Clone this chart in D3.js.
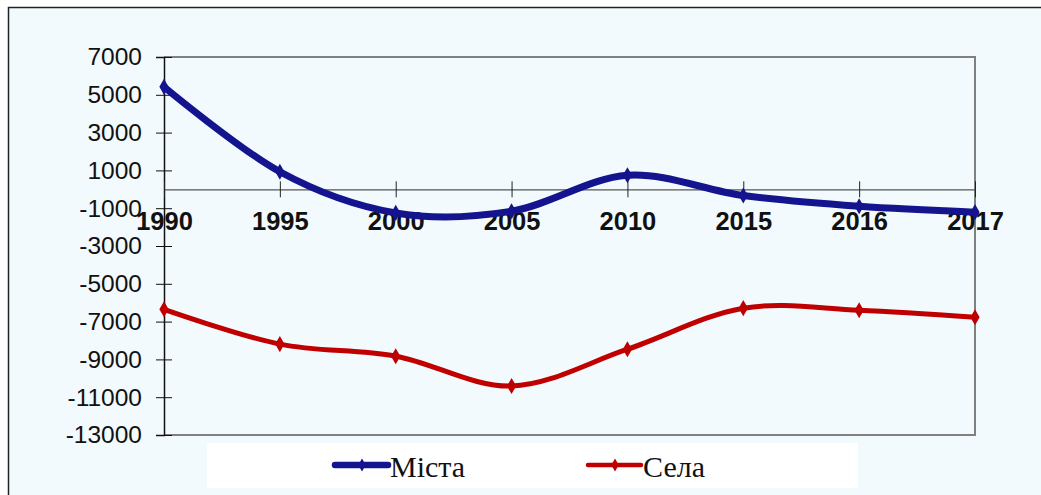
<!DOCTYPE html>
<html>
<head>
<meta charset="utf-8">
<script src="https://cdn.jsdelivr.net/npm/d3@7/dist/d3.min.js"></script>
<style>
  body { margin: 0; background: white; }
</style>
</head>
<body>
<svg id="chart" width="1041" height="495"></svg>
<script>

var years = ['1990', '1995', '2000', '2005', '2010', '2015', '2016', '2017'];
var cities = [5420, 930, -1250, -1160, 740, -330, -900, -1210];
var villages = [-6350, -8190, -8830, -10410, -8460, -6290, -6400, -6770];
var y_ticks = [7000, 5000, 3000, 1000, -1000, -3000, -5000, -7000, -9000, -11000, -13000];
var series_names = ['Міста', 'Села'];

var blue = '#14148e';
var red = '#c00000';
var axis_gray = '#808080';

var svg = d3.select('#chart');

// chart area
svg.append('rect')
  .attr('x', 8.5)
  .attr('y', 7.5)
  .attr('width', 1040)
  .attr('height', 495)
  .style('fill', '#f3fafd')
  .style('stroke', '#222')
  .style('stroke-width', 1.5);

var plot = {left: 164, right: 975, top: 57, bottom: 435};

var x = d3.scalePoint()
  .domain(years)
  .range([plot.left, plot.right])
  .padding(0);

var y = d3.scaleLinear()
  .domain([-13000, 7000])
  .range([plot.bottom, plot.top]);

// plot frame (top, right, bottom)
svg.append('path')
  .attr('d', 'M' + plot.left + ',' + plot.top + ' L' + plot.right + ',' + plot.top +
    ' L' + plot.right + ',' + plot.bottom + ' L' + plot.left + ',' + plot.bottom)
  .style('fill', 'none')
  .style('stroke', axis_gray)
  .style('stroke-width', 2);

// y axis
var y_axis = svg.append('g')
  .attr('transform', 'translate(' + plot.left + ',0)')
  .call(d3.axisLeft(y)
    .tickValues(y_ticks)
    .tickSize(8)
    .tickPadding(14)
    .tickFormat(function(d){ return d < 0 ? '-' + Math.abs(d) : '' + d; }));

y_axis.select('.domain')
  .style('stroke', '#111')
  .style('stroke-width', 1.5);

y_axis.selectAll('.tick line')
  .attr('x1', 8)
  .attr('x2', -8)
  .style('stroke', '#111');

y_axis.selectAll('.tick text')
  .style('font-family', '"Liberation Sans", Arial, sans-serif')
  .style('font-size', '24.5px')
  .style('fill', '#111');

// x axis on the zero line
var x_axis = svg.append('g')
  .attr('transform', 'translate(0,' + y(0) + ')')
  .call(d3.axisBottom(x)
    .tickSize(8)
    .tickSizeOuter(0));

x_axis.select('.domain')
  .style('stroke', '#555')
  .style('stroke-width', 1.2);

x_axis.selectAll('.tick line')
  .attr('y1', -8)
  .attr('y2', 8)
  .style('stroke', '#222');

x_axis.selectAll('.tick text')
  .attr('y', 41)
  .attr('dy', 0)
  .style('font-family', '"Liberation Sans", Arial, sans-serif')
  .style('font-weight', 'bold')
  .style('font-size', '25.5px')
  .style('fill', '#111');

// lines
var line = d3.line()
  .x(function(d, i){ return x(years[i]); })
  .y(function(d){ return y(d); })
  .curve(d3.curveCardinal.tension(0));

var series = [
  {name: series_names[0], values: cities, color: blue, width: 7},
  {name: series_names[1], values: villages, color: red, width: 5}
];

var diamond = d3.symbol().type(d3.symbolDiamond).size(75);

series.forEach(function(s){

  svg.append('path')
    .datum(s.values)
    .attr('d', line)
    .style('fill', 'none')
    .style('stroke', s.color)
    .style('stroke-width', s.width)
    .style('stroke-linecap', 'round');

  svg.append('g')
    .selectAll('path')
    .data(s.values)
    .enter()
    .append('path')
    .attr('d', diamond)
    .attr('transform', function(d, i){
      return 'translate(' + x(years[i]) + ',' + y(d) + ')';
    })
    .style('fill', s.color);
});

// legend
svg.append('rect')
  .attr('x', 207)
  .attr('y', 443)
  .attr('width', 651)
  .attr('height', 45)
  .style('fill', 'white');

var legend_x = [335, 588];

var legend = svg.append('g')
  .selectAll('g')
  .data(series)
  .enter()
  .append('g')
  .attr('transform', function(d, i){
    return 'translate(' + legend_x[i] + ',465)';
  });

legend.append('line')
  .attr('x1', 0)
  .attr('x2', 53)
  .style('stroke', function(d){ return d.color; })
  .style('stroke-width', function(d, i){ return i === 0 ? 6.5 : 4.5; })
  .style('stroke-linecap', 'round');

legend.append('path')
  .attr('d', d3.symbol().type(d3.symbolDiamond).size(50))
  .attr('transform', 'translate(27,0)')
  .style('fill', function(d){ return d.color; });

legend.append('text')
  .attr('x', 55)
  .attr('y', 12)
  .text(function(d){ return d.name; })
  .style('font-family', '"Liberation Serif", "Times New Roman", serif')
  .style('font-size', '30px')
  .style('fill', '#111');

</script>
</body>
</html>
